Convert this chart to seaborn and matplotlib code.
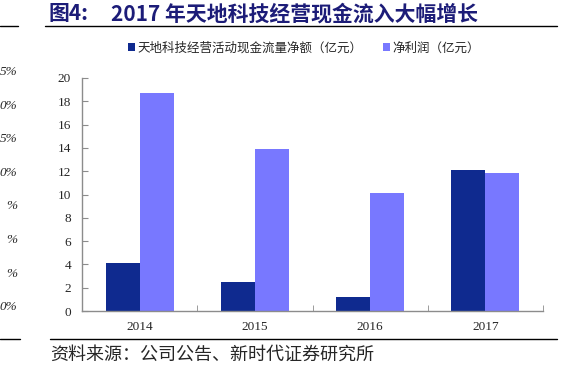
import pandas as pd
import numpy as np
import matplotlib
matplotlib.use("Agg")
import matplotlib.pyplot as plt
import seaborn as sns
from matplotlib.patches import Patch

years = ["2014", "2015", "2016", "2017"]
cash_flow = [4.1, 2.5, 1.2, 12.1]
net_profit = [18.7, 13.9, 10.1, 11.85]
series_names = ["天地科技经营活动现金流量净额（亿元）", "净利润（亿元）"]
colors = ["#0F2A8F", "#7878FF"]
y_ticks = list(range(0, 21, 2))
left_fragments = ["5%", "0%", "5%", "0%", "%", "%", "%", "0%"]

df = pd.DataFrame({
    "year": years * 2,
    "value": cash_flow + net_profit,
    "series": [series_names[0]] * 4 + [series_names[1]] * 4,
})

sns.set_style("white")
plt.rcParams["font.family"] = ["Liberation Serif", "Noto Sans CJK SC"]
cjk = ["Noto Sans CJK SC", "DejaVu Sans"]

fig = plt.figure(figsize=(5.81, 3.66), dpi=100)
ax = fig.add_axes([82 / 581, 55 / 366, 461 / 581, 233 / 366])

sns.barplot(data=df, x="year", y="value", hue="series", palette=colors,
            width=0.59, gap=0, saturation=1, linewidth=0, ax=ax, legend=False)

ax.set_xlim(-0.5, 3.5)
ax.set_ylim(0, 20)
ax.set_yticks(y_ticks)
ax.set_xlabel("")
ax.set_ylabel("")
for s in ["top", "right"]:
    ax.spines[s].set_visible(False)
for s in ["left", "bottom"]:
    ax.spines[s].set_color("#8c8c8c")
    ax.spines[s].set_linewidth(1.0)
ax.tick_params(axis="y", direction="in", length=4, color="#8c8c8c", labelsize=9.5, pad=8, left=True)
ax.tick_params(axis="x", which="major", length=0, labelsize=9.5, pad=7)
ax.set_xticks([0.5, 1.5, 2.5, 3.5], minor=True)
ax.tick_params(axis="x", which="minor", direction="in", length=4, color="#8c8c8c", bottom=True)

handles = [Patch(facecolor=c, edgecolor="none") for c in colors]
leg = fig.legend(handles, series_names, loc="center", bbox_to_anchor=(304 / 581, 1 - 48 / 366),
                 ncol=2, frameon=False, handlelength=0.6, handleheight=0.6, handletextpad=0.2,
                 columnspacing=1.6, prop={"family": cjk, "size": 9})

fig.text(48 / 581, 1 - 14 / 366, "图4:", family=cjk,
         fontsize=15, fontweight="bold", color="#1c1c78", va="center", ha="left")
fig.text(111 / 581, 1 - 14 / 366, "2017 年天地科技经营现金流入大幅增长", family=cjk,
         fontsize=15, fontweight="bold", color="#1c1c78", va="center", ha="left")
fig.add_artist(plt.Line2D([45 / 581, 557 / 581], [1 - 26 / 366] * 2, color="black", lw=1))
fig.add_artist(plt.Line2D([0, 18 / 581], [1 - 26 / 366] * 2, color="black", lw=1))
fig.add_artist(plt.Line2D([50 / 581, 557 / 581], [1 - 339 / 366] * 2, color="black", lw=1))
fig.add_artist(plt.Line2D([0, 20 / 581], [1 - 339 / 366] * 2, color="black", lw=1))
fig.text(50 / 581, 1 - 355 / 366, "资料来源：公司公告、新时代证券研究所", family=cjk,
         fontsize=13, va="center", ha="left")

for i, lab in enumerate(left_fragments):
    fig.text(17 / 581, 1 - (72 + i * 33.6) / 366, lab, fontsize=9.5, style="italic",
             ha="right", va="center")

fig.savefig("out.png", dpi=100)
